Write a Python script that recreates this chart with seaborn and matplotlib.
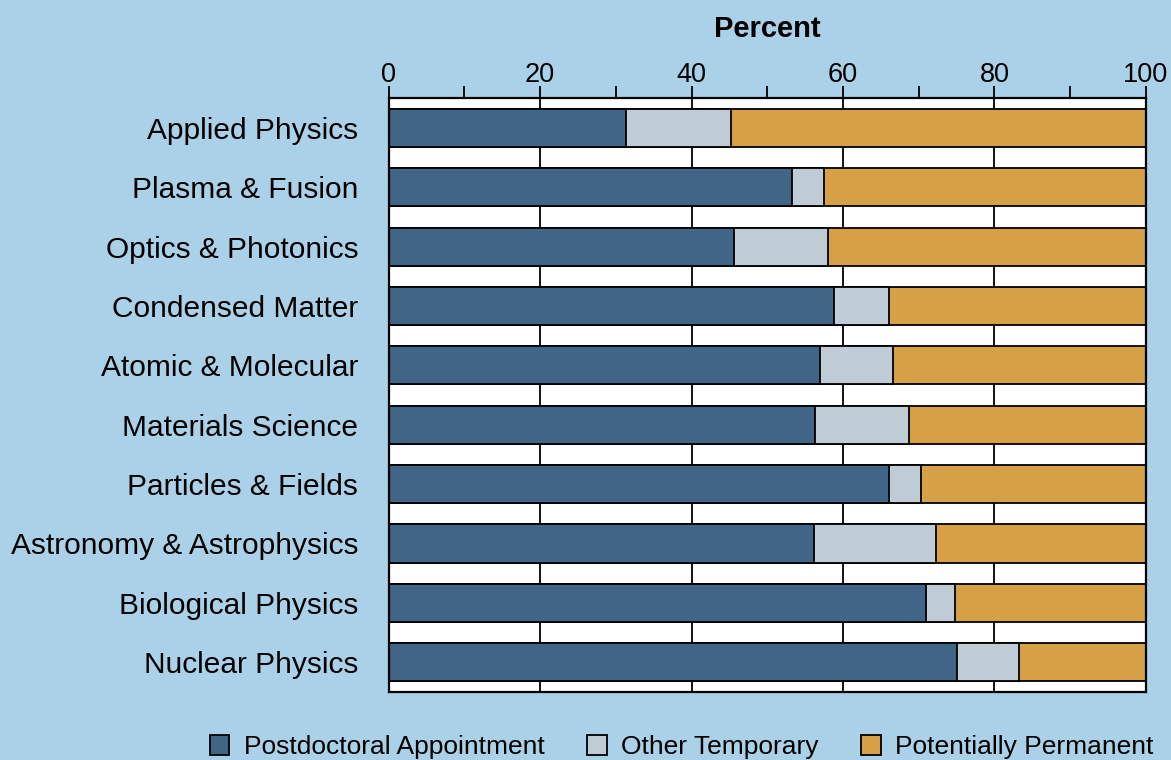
import numpy as np
import pandas as pd
import matplotlib.pyplot as plt
import seaborn as sns
from matplotlib.patches import Patch
from matplotlib.ticker import MultipleLocator

fields = ['Applied Physics', 'Plasma & Fusion', 'Optics & Photonics',
          'Condensed Matter', 'Atomic & Molecular', 'Materials Science',
          'Particles & Fields', 'Astronomy & Astrophysics',
          'Biological Physics', 'Nuclear Physics']
postdoc = [31.4, 53.2, 45.6, 58.8, 57.0, 56.3, 66.1, 56.2, 71.0, 75.1]
other_temp = [13.8, 4.3, 12.4, 7.3, 9.6, 12.4, 4.2, 16.1, 3.8, 8.1]
permanent = [54.8, 42.5, 42.0, 33.9, 33.4, 31.3, 29.7, 27.7, 25.2, 16.8]

labels = ['Postdoctoral Appointment', 'Other Temporary', 'Potentially Permanent']
colors = ['#416586', '#BFCCD6', '#D5A046']
bg = '#ABD1E8'

sns.set_style('white')
plt.rcParams['font.family'] = ['Liberation Sans', 'DejaVu Sans']
plt.rcParams['text.color'] = 'black'
plt.rcParams['xtick.color'] = 'black'
plt.rcParams['ytick.color'] = 'black'
plt.rcParams['axes.labelcolor'] = 'black'

df = pd.DataFrame({'field': fields, 'postdoc': postdoc,
                   'other': other_temp, 'perm': permanent})
df['c1'] = df['postdoc']
df['c2'] = df['postdoc'] + df['other']
df['c3'] = df['c2'] + df['perm']

fig = plt.figure(figsize=(11.71, 7.6), dpi=100, facecolor=bg)
ax = fig.add_axes([0.332, 0.0895, 0.6465, 0.7815])
ax.set_facecolor('white')

# stacked bars drawn back to front from cumulative totals
for col, c in zip(['c3', 'c2', 'c1'], colors[::-1]):
    sns.barplot(data=df, x=col, y='field', orient='h', color=c,
                width=0.64, edgecolor='black', linewidth=1.3,
                saturation=1, ax=ax)

ax.set_xlim(0, 100)
ax.set_ylim(9.5, -0.5)
ax.xaxis.set_major_locator(MultipleLocator(20))
ax.xaxis.set_minor_locator(MultipleLocator(10))
ax.xaxis.tick_top()
ax.xaxis.set_label_position('top')
ax.tick_params(axis='x', which='both', direction='out', top=True,
               bottom=False, width=1.3, length=9, labelsize=19.5, pad=-2)
ax.tick_params(axis='y', length=0, labelsize=21.5, pad=22)
ax.set_xlabel('Percent', fontsize=21, fontweight='bold', labelpad=18)
ax.set_ylabel('')

ax.grid(False)
for v in [20, 40, 60, 80]:
    ax.axvline(v, color='black', linewidth=1.3, zorder=0)

for s in ax.spines.values():
    s.set_color('black')
    s.set_linewidth(1.6)

handles = [Patch(facecolor=c, edgecolor='black', linewidth=1.3, label=l)
           for c, l in zip(colors, labels)]
fig.legend(handles=handles, loc='lower center', bbox_to_anchor=(0.582, -0.03),
           ncol=3, frameon=False, fontsize=19, handlelength=0.75,
           handleheight=0.75, handletextpad=0.55, columnspacing=1.6)

fig.savefig('out.png', dpi=100, facecolor=bg)
